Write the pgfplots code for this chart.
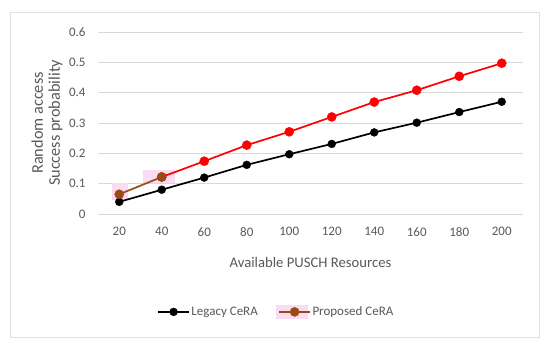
\documentclass[border=0pt]{standalone}
\usepackage{pgfplots}
\pgfplotsset{compat=1.18}
\usepackage{fontspec}
\setmainfont{Carlito}
\definecolor{txt}{HTML}{595959}
\definecolor{grid}{HTML}{D9D9D9}
\definecolor{brownish}{HTML}{9A4A14}
\definecolor{hl}{HTML}{FADCF2}
\pgfplotsset{
  plainlegend/.style={legend image code/.code={\draw[##1] (0pt,0pt) -- (31pt,0pt); \draw[##1, only marks] plot coordinates {(15.5pt,0pt)};}},
  hllegend/.style={legend image code/.code={\fill[hl] (-2pt,-6pt) rectangle (28pt,6pt); \draw[##1] (0pt,0pt) -- (31pt,0pt); \draw[##1, only marks] plot coordinates {(15.5pt,0pt)};}}
}
\begin{document}
\begin{tikzpicture}
\path[fill=white] (-98pt,-133pt) rectangle (452pt,214pt);
\draw[color=grid!80!white, line width=0.8pt] (-88pt,-123pt) rectangle (441pt,202pt);
\begin{axis}[
  scale only axis, width=425pt, height=182pt,
  xmin=10, xmax=210, ymin=0, ymax=0.6,
  xtick={20,40,...,200}, ytick={0,0.1,...,0.6},
  axis line style={draw=none},
  tick style={draw=none},
  ymajorgrids, grid style={color=grid, line width=0.8pt},
  tick label style={font=\fontsize{13}{15}\selectfont, color=txt},
  /pgf/number format/assume math mode=true,
  yticklabel style={/pgf/number format/fixed, /pgf/number format/precision=1},
  xticklabel style={yshift=-10pt},
  yticklabel style={xshift=-9pt},
  xlabel={Available PUSCH Resources},
  xlabel style={font=\fontsize{14.7}{16}\selectfont, color=txt, at={(axis description cs:0.5,-0.264)}, anchor=center},
  ylabel={Random access\\Success probability},
  ylabel style={font=\fontsize{16.3}{17}\selectfont, color=txt, at={(axis description cs:-0.12,0.5)}, anchor=center, align=center},
  legend columns=2,
  legend style={at={(axis description cs:0.419,-0.538)}, anchor=center, draw=none, fill=none,
    font=\fontsize{13}{15}\selectfont, text=txt,
    nodes={inner xsep=1.5pt},
    /tikz/every even column/.append style={column sep=17pt}},
  plainlegend,
  clip=false
]
\fill[hl] (axis cs:16.6,0.046) rectangle (axis cs:24.1,0.102);
\fill[hl] (axis cs:31.2,0.102) rectangle (axis cs:46.2,0.145);
\addplot[color=black, line width=1.7pt, mark=*, mark size=4pt, mark options={fill=black, line width=0.3pt}] coordinates {
(20,0.040) (40,0.080) (60,0.120) (80,0.162) (100,0.197) (120,0.231) (140,0.269) (160,0.301) (180,0.336) (200,0.370)};
\addlegendentry{Legacy CeRA}
\addplot[forget plot, color=red, line width=1.7pt, mark=*, mark size=4.6pt, mark options={fill=red, line width=0.3pt}] coordinates {
(40,0.122) (60,0.174) (80,0.227) (100,0.271) (120,0.320) (140,0.369) (160,0.408) (180,0.454) (200,0.497)};
\addplot[color=brownish, line width=1.7pt, mark=*, mark size=4.6pt, mark options={fill=brownish, line width=0.3pt}, hllegend] coordinates {
(20,0.065) (40,0.122)};
\addlegendentry{Proposed CeRA}
\end{axis}
\end{tikzpicture}
\end{document}
